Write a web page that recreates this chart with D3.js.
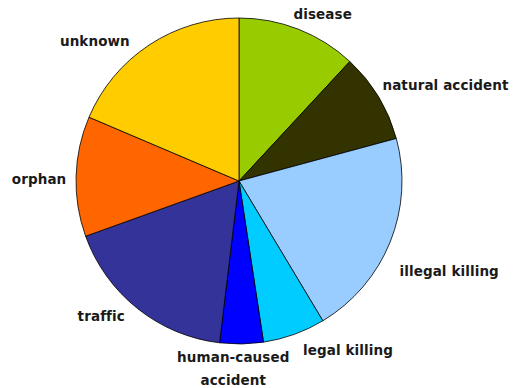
<!DOCTYPE html>
<html>
<head>
<meta charset="utf-8">
<script src="https://cdn.jsdelivr.net/npm/d3@7/dist/d3.min.js"></script>
<style>
  html, body { margin: 0; padding: 0; background: #fff; }
  svg { display: block; }
  .lbl { font-family: "DejaVu Sans", Verdana, sans-serif; font-weight: bold; font-size: 13.5px; letter-spacing: 0.1px; fill: #1a1a1a; }
</style>
</head>
<body>
<svg id="chart" width="516" height="388"></svg>
<script>
// Causes of mortality (share of cases, %)
const causes = ["disease", "natural accident", "illegal killing", "legal killing",
                "human-caused accident", "traffic", "orphan", "unknown"];
const shares = [11.9, 8.9, 20.6, 6.2, 4.3, 17.6, 11.9, 18.6];
const colors = ["#99CC00", "#333300", "#99CCFF", "#00CCFF",
                "#0000FF", "#333399", "#FF6600", "#FFCC00"];
// Label text lines per slice
const labelLines = [["disease"], ["natural accident"], ["illegal killing"], ["legal killing"],
                    ["human-caused", "accident"], ["traffic"], ["orphan"], ["unknown"]];
// Label shifts from the outer-arc anchor point
const labelNudge = [[19, -2], [55, -4], [46, 24], [49, 2.5], [-8.5, 10.5], [-27.5, -3], [-23, 3], [-46.5, 8]];

const W = 516, H = 388;
const cx = 239, cy = 181, r = 163;

const data = causes.map((c, i) => ({ cause: c, value: shares[i], color: colors[i], lines: labelLines[i], nudge: labelNudge[i] }));

const pie = d3.pie().sort(null).value(d => d.value);
const arc = d3.arc().innerRadius(0).outerRadius(r);
const labelArc = d3.arc().innerRadius(177).outerRadius(177);

const svg = d3.select("#chart");
const g = svg.append("g").attr("transform", `translate(${cx},${cy})`);

const arcs = pie(data);

g.selectAll("path.slice")
  .data(arcs)
  .join("path")
  .attr("class", "slice")
  .attr("d", arc)
  .attr("fill", d => d.data.color)
  .attr("stroke", "#000")
  .attr("stroke-width", 0.8)
  .attr("stroke-linejoin", "round");

const lineH = 23;
const labels = g.selectAll("text.lbl")
  .data(arcs)
  .join("text")
  .attr("class", "lbl")
  .attr("text-anchor", "middle")
  .attr("transform", d => {
    const [x, y] = labelArc.centroid(d);
    return `translate(${x + d.data.nudge[0]},${y + d.data.nudge[1]})`;
  });

labels.selectAll("tspan")
  .data(d => d.data.lines.map((t, i, a) => ({ t, i, n: a.length })))
  .join("tspan")
  .attr("x", 0)
  .attr("y", d => (d.i - (d.n - 1) / 2) * lineH)
  .attr("dy", "0.35em")
  .text(d => d.t);
</script>
</body>
</html>
